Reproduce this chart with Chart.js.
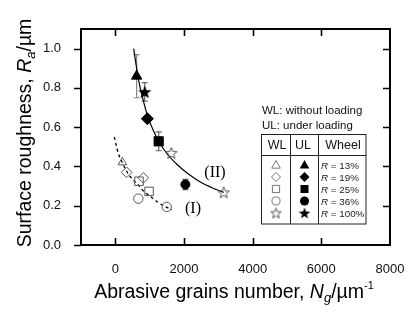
<!DOCTYPE html>
<html><head><meta charset="utf-8">
<script src="https://cdn.jsdelivr.net/npm/chart.js@4/dist/chart.umd.min.js"></script>
<style>html,body{margin:0;padding:0;background:#fff}#wrap{width:414px;height:322px}</style>
</head><body><div id="wrap"><canvas id="c" width="414" height="322"></canvas></div>
<script>
// ---- data ----
const ulLabels = ['R = 13%', 'R = 19%', 'R = 25%', 'R = 36%', 'R = 100%'];
const ulX = [620, 933, 1263, 2040, 855];
const ulY = [0.86, 0.643, 0.528, 0.308, 0.78];
const ulErr = [0.11, 0, 0.048, 0.026, 0.047];

const wlTriX = [204];        const wlTriY = [0.421];
const wlDiaX = [329, 816];   const wlDiaY = [0.37, 0.342];
const wlSqX = [690, 982];    const wlSqY = [0.325, 0.273];
const wlCirX = [670, 1496];  const wlCirY = [0.236, 0.194];
const wlStarX = [1632, 3157]; const wlStarY = [0.469, 0.268];

const fitIX = [-30, 50, 100, 200, 350, 525, 700, 816, 1000, 1205, 1400, 1642];
const fitIY = [0.55, 0.49, 0.46, 0.42, 0.37, 0.33, 0.30, 0.275, 0.25, 0.222, 0.20, 0.18];
const fitIIX = [535, 620, 700, 800, 933, 1100, 1263, 1500, 1800, 2100, 2500, 2800, 3157];
const fitIIY = [1.0, 0.90, 0.82, 0.745, 0.66, 0.586, 0.53, 0.466, 0.41, 0.365, 0.318, 0.293, 0.268];

const xTickValues = [0, 2000, 4000, 6000, 8000];
const yTickValues = [0, 0.2, 0.4, 0.6, 0.8, 1.0];
const legendWL = ['triangle', 'rectRot', 'rect', 'circle', 'star'];

const FONT = '"Liberation Sans", Arial, sans-serif';
const pts = (xs, ys) => xs.map((x, i) => ({x: x, y: ys[i]}));

function starCanvas(size, filled, color) {
  const cv = document.createElement('canvas');
  cv.width = size + 2; cv.height = size + 2;
  const c = cv.getContext('2d');
  const cx = cv.width / 2, cy = cv.height / 2 + size * 0.05, R = size / 2, r = R * 0.42;
  c.beginPath();
  for (let i = 0; i < 10; i++) {
    const a = -Math.PI / 2 + i * Math.PI / 5;
    const rr = i % 2 ? r : R;
    c.lineTo(cx + rr * Math.cos(a), cy + rr * Math.sin(a));
  }
  c.closePath();
  if (filled) { c.fillStyle = color; c.fill(); }
  else { c.strokeStyle = color; c.lineWidth = 1; c.stroke(); }
  return cv;
}
const starFilled = starCanvas(14, true, '#000');
const starOpen = starCanvas(12, false, '#555');
const starFilledSm = starCanvas(12, true, '#000');
const starOpenSm = starCanvas(11, false, '#555');

const ulStyles = ['triangle', 'rectRot', 'rect', 'circle', starFilled];
const ulRadius = [6, 6, 6.5, 4.5, 7];

const datasets = [];
ulX.forEach((x, i) => {
  datasets.push({label: 'UL ' + ulLabels[i], data: [{x: x, y: ulY[i]}], pointStyle: ulStyles[i],
    pointRadius: ulRadius[i], backgroundColor: '#000', borderColor: '#000', borderWidth: 1, showLine: false});
});
const openDs = (lab, xs, ys, style, r) => ({label: lab, data: pts(xs, ys), pointStyle: style, pointRadius: r,
  backgroundColor: 'rgba(0,0,0,0)', borderColor: '#555', borderWidth: 1, showLine: false});
datasets.push(openDs('WL triangle', wlTriX, wlTriY, 'triangle', 5));
datasets.push(openDs('WL diamond', wlDiaX, wlDiaY, 'rectRot', 5.3));
datasets.push(openDs('WL square', wlSqX, wlSqY, 'rect', 6));
datasets.push(openDs('WL circle', wlCirX, wlCirY, 'circle', 4.7));
datasets.push(openDs('WL star', wlStarX, wlStarY, starOpen, 6));
datasets.push({label: 'fit I', data: pts(fitIX, fitIY), showLine: true, pointRadius: 0, borderColor: '#000',
  borderWidth: 1.3, borderDash: [3, 3], cubicInterpolationMode: 'monotone', fill: false});
datasets.push({label: 'fit II', data: pts(fitIIX, fitIIY), showLine: true, pointRadius: 0, borderColor: '#000',
  borderWidth: 1.2, cubicInterpolationMode: 'monotone', fill: false});

function drawRich(ctx, parts, x, y, align) {
  let total = 0;
  parts.forEach(p => { ctx.font = (p[2] ? 'italic ' : '') + p[1] + 'px ' + FONT; total += ctx.measureText(p[0]).width; });
  let cx = align === 'center' ? x - total / 2 : x;
  ctx.textAlign = 'left';
  parts.forEach(p => {
    ctx.font = (p[2] ? 'italic ' : '') + p[1] + 'px ' + FONT;
    ctx.fillText(p[0], cx, y + (p[3] || 0));
    cx += ctx.measureText(p[0]).width;
  });
}

function legendMark(ctx, style, x, y, filled) {
  ctx.save();
  ctx.beginPath();
  const s = filled ? 5 : 4.5;
  if (style === 'triangle') {
    ctx.moveTo(x, y - s); ctx.lineTo(x + s * 0.95, y + s * 0.7); ctx.lineTo(x - s * 0.95, y + s * 0.7); ctx.closePath();
  } else if (style === 'rectRot') {
    ctx.moveTo(x, y - s); ctx.lineTo(x + s, y); ctx.lineTo(x, y + s); ctx.lineTo(x - s, y); ctx.closePath();
  } else if (style === 'rect') {
    ctx.rect(x - s * 0.8, y - s * 0.8, s * 1.6, s * 1.6);
  } else if (style === 'circle') {
    ctx.arc(x, y, s * 0.9, 0, Math.PI * 2);
  } else {
    const img = filled ? starFilledSm : starOpenSm;
    ctx.drawImage(img, x - img.width / 2, y - img.height / 2);
    ctx.restore(); return;
  }
  if (filled) { ctx.fillStyle = '#000'; ctx.fill(); }
  else { ctx.strokeStyle = '#666'; ctx.lineWidth = 0.9; ctx.stroke(); }
  ctx.restore();
}

const decor = {
  id: 'decor',
  beforeDatasetsDraw(chart) {
    const ctx = chart.ctx, xs = chart.scales.x, ys = chart.scales.y;
    ctx.save();
    ulX.forEach((x, i) => {
      if (!ulErr[i]) return;
      const px = xs.getPixelForValue(x);
      const t = ys.getPixelForValue(ulY[i] + ulErr[i]), b = ys.getPixelForValue(ulY[i] - ulErr[i]);
      ctx.strokeStyle = i === 0 ? '#8a8a8a' : '#666';
      ctx.lineWidth = 1.2;
      ctx.beginPath();
      ctx.moveTo(px, t); ctx.lineTo(px, b);
      ctx.moveTo(px - 3, t); ctx.lineTo(px + 3, t);
      ctx.moveTo(px - 3, b); ctx.lineTo(px + 3, b);
      ctx.stroke();
    });
    ctx.restore();
  },
  afterDraw(chart) {
    const ctx = chart.ctx, a = chart.chartArea, xs = chart.scales.x, ys = chart.scales.y;
    ctx.save();
    ctx.strokeStyle = '#000';
    ctx.lineWidth = 2;
    ctx.strokeRect(a.left, a.top, a.right - a.left, a.bottom - a.top);
    ctx.lineWidth = 1.6;
    ctx.beginPath();
    xTickValues.forEach(v => {
      const px = Math.round(xs.getPixelForValue(v)) + 0.5;
      if (px > a.right - 2) return;
      ctx.moveTo(px, a.bottom); ctx.lineTo(px, a.bottom - 7);
      ctx.moveTo(px, a.top); ctx.lineTo(px, a.top + 7);
    });
    yTickValues.forEach(v => {
      const py = Math.round(ys.getPixelForValue(v)) + 0.5;
      ctx.moveTo(a.left, py); ctx.lineTo(a.left - 7, py);
      if (v > 0) { ctx.moveTo(a.right, py); ctx.lineTo(a.right - 7, py); }
    });
    ctx.stroke();

    // axis titles
    ctx.fillStyle = '#000';
    ctx.textBaseline = 'alphabetic';
    drawRich(ctx, [['Abrasive grains number, ', 19.5], ['N', 19.5, true], ['g', 13, true, 4], ['/\u00b5m', 19.5], ['-1', 11, false, -9]], 234, 298, 'center');
    ctx.save();
    ctx.translate(31, 133);
    ctx.rotate(-Math.PI / 2);
    drawRich(ctx, [['Surface roughness, ', 19.5], ['R', 19.5, true], ['a', 13, true, 4], ['/\u00b5m', 19.5]], 0, 0, 'center');
    ctx.restore();

    // curve labels
    ctx.font = '16px "Liberation Serif", "Times New Roman", serif';
    ctx.textAlign = 'center';
    ctx.fillText('(II)', 215, 177);
    ctx.fillText('(I)', 193, 213);

    // legend notes
    ctx.textAlign = 'left';
    ctx.fillStyle = '#111';
    ctx.font = '11.5px ' + FONT;
    ctx.fillText('WL: without loading', 262, 114);
    ctx.fillText('UL: under loading', 262, 129);

    // table
    ctx.strokeStyle = '#222';
    ctx.lineWidth = 1;
    ctx.strokeRect(261.5, 134.5, 104.5, 89.5);
    ctx.beginPath();
    ctx.moveTo(261.5, 155.5); ctx.lineTo(366, 155.5);
    ctx.moveTo(290.5, 134.5); ctx.lineTo(290.5, 224);
    ctx.moveTo(318.5, 134.5); ctx.lineTo(318.5, 224);
    ctx.stroke();
    ctx.font = '12.5px ' + FONT;
    ctx.textAlign = 'center';
    ctx.fillText('WL', 277, 149);
    ctx.fillText('UL', 303, 149);
    ctx.fillText('Wheel', 343, 149);
    const rowsY = [165, 177, 189, 201, 213];
    rowsY.forEach((ry, i) => {
      legendMark(ctx, legendWL[i], 276, ry, false);
      legendMark(ctx, legendWL[i], 304.5, ry, true);
      ctx.fillStyle = '#222';
      drawRich(ctx, [['R', 9.8, true], [ulLabels[i].slice(1), 9.8]], 321, ry + 3.5, 'left');
    });
    ctx.restore();
  }
};

new Chart(document.getElementById('c'), {
  type: 'scatter',
  data: {datasets: datasets},
  options: {
    responsive: false,
    animation: false,
    events: [],
    layout: {padding: {left: 0, right: 24, top: 29, bottom: 0}},
    plugins: {legend: {display: false}, tooltip: {enabled: false}},
    scales: {
      x: {
        type: 'linear', min: -1000, max: 8000,
        afterBuildTicks: s => { s.ticks = xTickValues.map(v => ({value: v})); },
        afterFit: s => { s.height = 77; },
        grid: {display: false}, border: {display: false},
        ticks: {callback: v => String(v), color: '#111', font: {family: FONT, size: 13}, padding: 9, maxRotation: 0, autoSkip: false}
      },
      y: {
        type: 'linear', min: 0, max: 1.1,
        afterBuildTicks: s => { s.ticks = yTickValues.map(v => ({value: v})); },
        afterFit: s => { s.width = 81; },
        grid: {display: false}, border: {display: false},
        ticks: {callback: v => v.toFixed(1), color: '#111', font: {family: FONT, size: 13}, padding: 12, autoSkip: false}
      }
    }
  },
  plugins: [decor]
});
</script></body></html>
